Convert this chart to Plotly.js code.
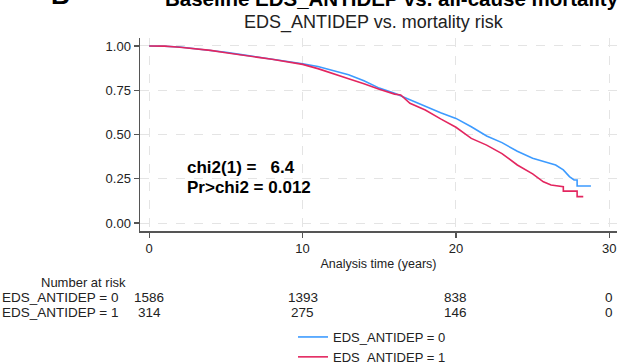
<!DOCTYPE html>
<html>
<head>
<meta charset="utf-8">
<script src="https://cdn.plot.ly/plotly-3.0.1.min.js"></script>
<style>html,body{margin:0;padding:0;background:#fff;}#chart{width:617px;height:362px;}</style>
</head>
<body>
<div id="chart"></div>
<script>
// Kaplan-Meier estimates
const timeGroup0 = [0, 0.5, 1, 2, 3, 4, 5, 6, 7, 8, 9, 10, 11, 12, 13, 14, 15, 16, 17, 18, 19, 20, 21, 22, 23, 24, 25, 26, 26.5, 27.0, 27.4, 27.7, 27.9, 27.9, 28.8];
const survGroup0 = [1.000, 1.000, 0.998, 0.994, 0.985, 0.976, 0.965, 0.951, 0.939, 0.928, 0.915, 0.900, 0.884, 0.862, 0.838, 0.803, 0.762, 0.733, 0.695, 0.657, 0.623, 0.591, 0.544, 0.492, 0.454, 0.405, 0.366, 0.341, 0.328, 0.300, 0.262, 0.243, 0.243, 0.209, 0.209];

const timeGroup1 = [0, 1, 2, 3, 4, 5, 6, 7, 8, 9, 10, 11, 12, 13, 14, 15, 16, 16.4, 17, 18, 19, 20, 21, 22, 23, 24, 25, 25.7, 26.2, 27.0, 27.0, 27.9, 27.9, 28.3];
const survGroup1 = [1.000, 0.999, 0.993, 0.985, 0.975, 0.962, 0.948, 0.937, 0.925, 0.911, 0.896, 0.872, 0.842, 0.815, 0.787, 0.755, 0.728, 0.723, 0.676, 0.638, 0.588, 0.541, 0.478, 0.440, 0.392, 0.328, 0.278, 0.233, 0.215, 0.205, 0.180, 0.180, 0.149, 0.149];

const seriesNames = ["EDS_ANTIDEP = 0", "EDS_ANTIDEP = 1"];
const riskTimes = [0, 10, 20, 30];
const atRiskGroup0 = [1586, 1393, 838, 0];
const atRiskGroup1 = [314, 275, 146, 0];
const xTicks = [0, 10, 20, 30];
const yTicks = [0, 0.25, 0.5, 0.75, 1];
const yTickText = ["0.00", "0.25", "0.50", "0.75", "1.00"];

const FONT = "Liberation Sans, Arial, sans-serif";
const TXT = "#222";
const blue = "#3d9bff";
const red = "#e3265f";

const traces = [
  {x: timeGroup0, y: survGroup0, type: "scatter", mode: "lines", name: seriesNames[0],
   line: {color: blue, width: 1.6}},
  {x: timeGroup1, y: survGroup1, type: "scatter", mode: "lines", name: seriesNames[1],
   line: {color: red, width: 1.6}}
];

// paper-coordinate helpers (plot area: left 140, width 477, top 38, height 193)
const px2paperX = p => (p - 140) / 477;
const py2paperY = p => (231 - p) / 193;

const annotations = [
  {text: "<b>B</b>", xref: "paper", yref: "paper", x: px2paperX(60), y: py2paperY(-5), xanchor: "center", yanchor: "middle",
   showarrow: false, font: {family: FONT, size: 26, color: "#000"}},
  {text: "<b>Baseline EDS_ANTIDEP vs. all-cause mortality</b>", xref: "paper", yref: "paper", x: px2paperX(163), y: py2paperY(-1),
   xanchor: "left", yanchor: "middle", showarrow: false, font: {family: FONT, size: 20.5, color: "#000"}},
  {text: "EDS_ANTIDEP vs. mortality risk", xref: "paper", yref: "paper", x: px2paperX(374), y: py2paperY(23),
   xanchor: "center", yanchor: "middle", showarrow: false, font: {family: FONT, size: 18, color: TXT}},
  {text: "<b>chi2(1) =\u00a0\u00a0\u00a06.4</b>", xref: "x", yref: "y", x: 2.35, y: 0.316, xanchor: "left", yanchor: "middle",
   showarrow: false, font: {family: FONT, size: 17, color: "#000"}},
  {text: "<b>Pr>chi2 = 0.012</b>", xref: "x", yref: "y", x: 2.35, y: 0.203, xanchor: "left", yanchor: "middle",
   showarrow: false, font: {family: FONT, size: 17, color: "#000"}},
  {text: "Number at risk", xref: "paper", yref: "paper", x: px2paperX(83), y: py2paperY(282), xanchor: "center", yanchor: "middle",
   showarrow: false, font: {family: FONT, size: 13, color: TXT}},
  {text: seriesNames[0], xref: "paper", yref: "paper", x: px2paperX(0), y: py2paperY(297), xanchor: "left", yanchor: "middle",
   showarrow: false, font: {family: FONT, size: 13.5, color: TXT}},
  {text: seriesNames[1], xref: "paper", yref: "paper", x: px2paperX(0), y: py2paperY(312), xanchor: "left", yanchor: "middle",
   showarrow: false, font: {family: FONT, size: 13.5, color: TXT}}
];
riskTimes.forEach((t, i) => {
  annotations.push({text: String(atRiskGroup0[i]), xref: "x", yref: "paper", x: t, y: py2paperY(297), xanchor: "center", yanchor: "middle",
    showarrow: false, font: {family: FONT, size: 13.5, color: TXT}});
  annotations.push({text: String(atRiskGroup1[i]), xref: "x", yref: "paper", x: t, y: py2paperY(312), xanchor: "center", yanchor: "middle",
    showarrow: false, font: {family: FONT, size: 13.5, color: TXT}});
});

const layout = {
  width: 617, height: 362,
  margin: {l: 140, r: 0, t: 38, b: 131, pad: 0, autoexpand: false},
  paper_bgcolor: "#fff", plot_bgcolor: "#fff",
  font: {family: FONT, color: TXT, size: 13},
  showlegend: true,
  legend: {x: px2paperX(293), y: py2paperY(322), xanchor: "left", yanchor: "top",
    font: {family: FONT, size: 13, color: TXT}, bgcolor: "rgba(0,0,0,0)", tracegroupgap: 0, itemwidth: 30},
  xaxis: {range: [-0.6, 30.5], tickvals: xTicks, ticks: "outside", ticklen: 5, tickwidth: 1.2, tickcolor: "#555",
    showline: true, linecolor: "#555", linewidth: 1.5, showgrid: true, gridcolor: "#e4e4e4", griddash: "dash", gridwidth: 1,
    zeroline: false, tickfont: {family: FONT, size: 13, color: TXT}, automargin: false,
    title: {text: "Analysis time (years)", font: {family: FONT, size: 12.5, color: TXT}, standoff: 4}},
  yaxis: {range: [-0.045, 1.045], tickvals: yTicks, ticktext: yTickText, ticks: "outside", ticklen: 5, tickwidth: 1.2, tickcolor: "#555",
    showline: true, linecolor: "#555", linewidth: 1.5, showgrid: true, gridcolor: "#e4e4e4", griddash: "dash", gridwidth: 1,
    zeroline: false, tickfont: {family: FONT, size: 13, color: TXT}, automargin: false},
  annotations: annotations
};

Plotly.newPlot("chart", traces, layout, {displayModeBar: false, staticPlot: true});
</script>
</body>
</html>
